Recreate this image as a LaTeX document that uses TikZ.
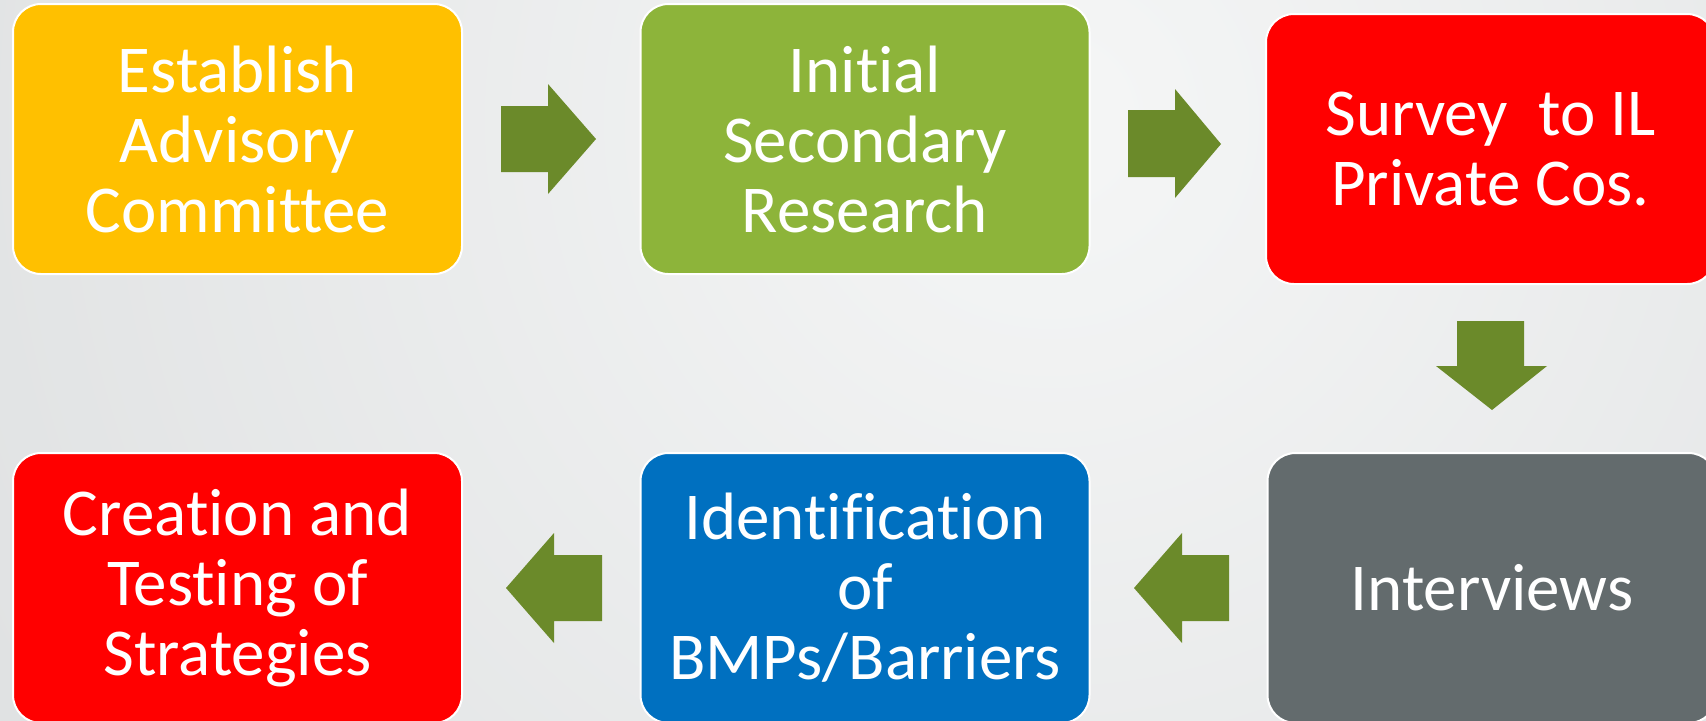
\documentclass[tikz,border=0pt]{standalone}
\usepackage{fontspec}
\setmainfont{Carlito}[Ligatures=NoCommon]
\definecolor{bgin}{HTML}{F5F6F6}
\definecolor{bgout}{HTML}{C9CCCE}
\definecolor{cyellow}{HTML}{FFC000}
\definecolor{cgreen}{HTML}{8DB43A}
\definecolor{cred}{HTML}{FF0000}
\definecolor{cgray}{HTML}{636B6D}
\definecolor{cblue}{HTML}{0070C0}
\definecolor{carrow}{HTML}{6B8A2A}
\tikzset{
  stepbox/.style={draw=white, line width=1pt, rounded corners=14pt,
    minimum width=224.5pt, minimum height=135pt, inner sep=0pt,
    text=white, align=center, font=\fontsize{33.5}{35}\selectfont},
  barrow/.style={fill=carrow, draw=none}
}
\begin{document}
\begin{tikzpicture}[x=0.5pt,y=-0.5pt]
\useasboundingbox (0,0) rectangle (1706,720);
\begin{scope}
\clip (0,0) rectangle (1706,720);
\shade[inner color=bgin, outer color=bgout] (1050,120) circle (2500);
\end{scope}
% boxes
\node[stepbox, fill=cyellow] (b1) at (237.5,139) {Establish\\Advisory\\Committee};
\node[stepbox, fill=cgreen] (b2) at (865,139) {Initial\\Secondary\\Research};
\node[stepbox, fill=cred] (b3) at (1490.5,149) {Survey\ \ to IL\\Private Cos.};
\node[stepbox, fill=cgray] (b4) at (1492,588) {Interviews};
\node[stepbox, fill=cblue] (b5) at (865,588) {Identification\\of\\BMPs/Barriers};
\node[stepbox, fill=cred] (b6) at (237.5,588) {Creation and\\Testing of\\Strategies};
% block arrows
\fill[barrow] (501,106) -- (548,106) -- (548,84) -- (596,139) -- (548,194) -- (548,172) -- (501,172) -- cycle;
\fill[barrow] (1128,110) -- (1175,110) -- (1175,89) -- (1221,144) -- (1175,198) -- (1175,177) -- (1128,177) -- cycle;
\fill[barrow] (1457,321) -- (1524,321) -- (1524,366) -- (1547,366) -- (1492,410) -- (1436,366) -- (1457,366) -- cycle;
\fill[barrow] (1229,555) -- (1182,555) -- (1182,533) -- (1134,588) -- (1182,643) -- (1182,621) -- (1229,621) -- cycle;
\fill[barrow] (602,555) -- (554,555) -- (554,533) -- (506,588) -- (554,643) -- (554,621) -- (602,621) -- cycle;
\end{tikzpicture}
\end{document}
